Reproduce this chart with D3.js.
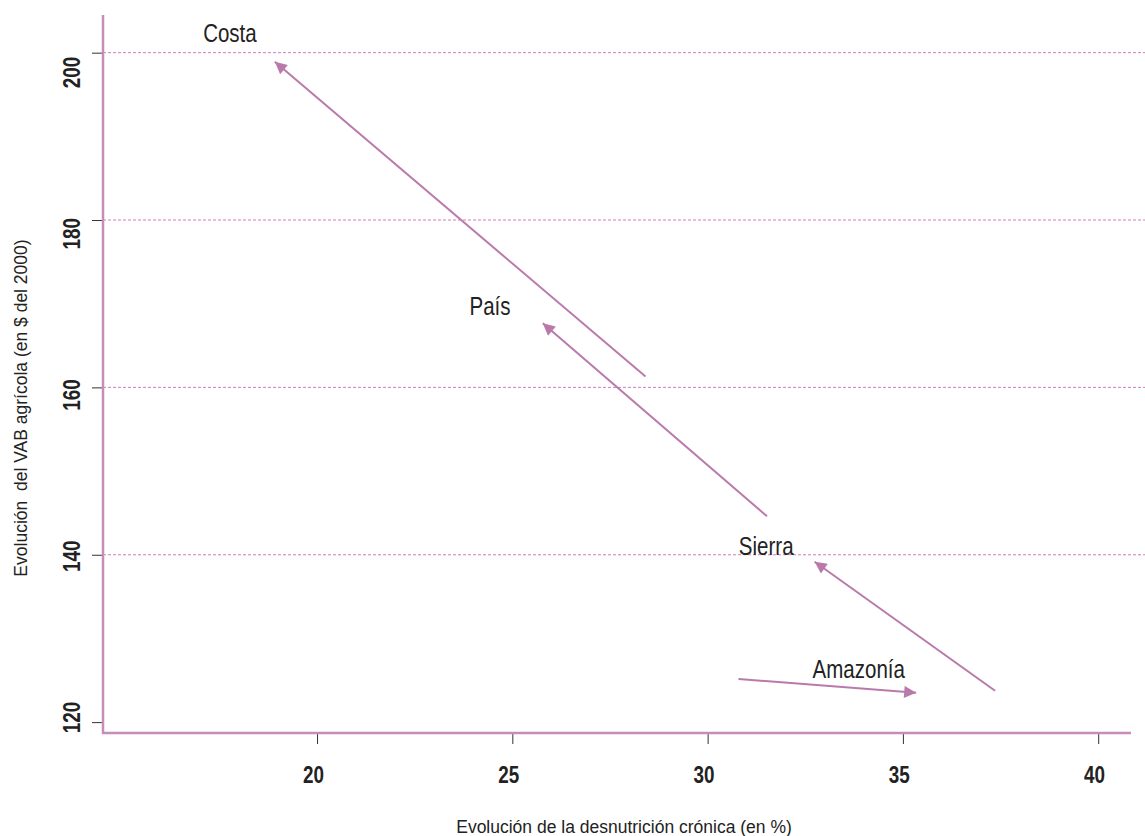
<!DOCTYPE html>
<html>
<head>
<meta charset="utf-8">
<script src="https://cdn.jsdelivr.net/npm/d3@7"></script>
<style>
  html, body { margin: 0; padding: 0; background: #fff; }
  svg { display: block; }
</style>
</head>
<body>
<svg id="chart" width="1145" height="836"></svg>
<script>
// ---- data ----
const regions = ["Costa", "País", "Sierra", "Amazonía"];
const startX = [28.41, 31.52, 37.36, 30.79];   // desnutrición crónica (%) - inicio
const startY = [161.3, 144.6, 123.75, 125.15]; // VAB agrícola - inicio
const endX   = [18.92, 25.78, 32.74, 35.34];   // desnutrición crónica (%) - fin
const endY   = [198.9, 167.66, 139.17, 123.5]; // VAB agrícola - fin
const labelX = [17.77, 24.43, 31.5, 33.87];
const labelY = [201.3, 168.65, 139.97, 125.27];
const xTicks = [20, 25, 30, 35, 40];
const yTicks = [120, 140, 160, 180, 200];
const gridValues = [140, 160, 180, 200];
const xTitle = "Evolución de la desnutrición crónica (en %)";
const yTitle = "Evolución  del VAB agrícola (en $ del 2000)";

// ---- layout ----
const svg = d3.select("#chart");
const mLeft = 103, mRight = 1131, mTop = 15, mBottom = 733;
const x = d3.scaleLinear().domain([14.52, 40.84]).range([mLeft, mRight]);
const y = d3.scaleLinear().domain([118.7, 204.5]).range([mBottom, mTop]);
const yLab = d3.scaleLinear().domain([120, 200]).range([717, 72]);

const axisColor = "#c78cbc";
const arrowColor = "#b97aab";
const gridColor = "#d27dbc";
const font = "'Liberation Sans', Arial, Helvetica, sans-serif";
const squeeze = 0.82;

svg.append("defs").append("marker")
  .attr("id", "arrow")
  .attr("viewBox", "0 0 10 10")
  .attr("refX", 10).attr("refY", 5)
  .attr("markerUnits", "userSpaceOnUse")
  .attr("markerWidth", 16).attr("markerHeight", 12)
  .attr("orient", "auto")
  .append("path")
  .attr("d", "M0,0 L10,5 L0,10 Z")
  .attr("fill", arrowColor);

// gridlines
svg.append("g").selectAll("line").data(gridValues).join("line")
  .attr("x1", mLeft).attr("x2", 1145)
  .attr("y1", d => y(d)).attr("y2", d => y(d))
  .attr("stroke", gridColor).attr("stroke-width", 1)
  .attr("stroke-dasharray", "3,2");

// y axis ticks
const gy = svg.append("g").attr("transform", `translate(${mLeft},0)`)
  .call(d3.axisLeft(y).tickValues(yTicks).tickSize(11).tickSizeOuter(0).tickFormat(""));
gy.select(".domain").remove();
gy.selectAll(".tick line").attr("stroke", "#333").attr("stroke-width", 1);

// y tick labels (rotated, condensed)
const gyl = svg.append("g").attr("transform", `translate(${mLeft},0)`)
  .call(d3.axisLeft(yLab).tickValues(yTicks).tickSize(0).tickSizeOuter(0));
gyl.select(".domain").remove();
gyl.selectAll(".tick text")
  .attr("transform", `rotate(-90) scale(${squeeze},1)`)
  .attr("x", 0).attr("y", -23).attr("dy", 0)
  .attr("text-anchor", "middle")
  .attr("font-family", font).attr("font-weight", "bold")
  .attr("font-size", 23).attr("fill", "#222");

// x axis
const gx = svg.append("g").attr("transform", `translate(0,${mBottom})`)
  .call(d3.axisBottom(x).tickValues(xTicks).tickSize(11).tickSizeOuter(0));
gx.select(".domain").remove();
gx.selectAll(".tick line").attr("stroke", "#333").attr("stroke-width", 1);
gx.selectAll(".tick text")
  .attr("transform", `scale(${squeeze},1)`)
  .attr("x", -5).attr("dy", 0).attr("y", 50)
  .attr("text-anchor", "middle")
  .attr("font-family", font).attr("font-weight", "bold")
  .attr("font-size", 23).attr("fill", "#222");

// axis lines
svg.append("line").attr("x1", mLeft).attr("x2", mLeft)
  .attr("y1", mTop).attr("y2", mBottom + 1)
  .attr("stroke", axisColor).attr("stroke-width", 2.5);
svg.append("line").attr("x1", mLeft - 1).attr("x2", mRight)
  .attr("y1", mBottom).attr("y2", mBottom)
  .attr("stroke", axisColor).attr("stroke-width", 2.5);

// arrows
svg.append("g").selectAll("line").data(regions).join("line")
  .attr("x1", (d, i) => x(startX[i])).attr("y1", (d, i) => y(startY[i]))
  .attr("x2", (d, i) => x(endX[i])).attr("y2", (d, i) => y(endY[i]))
  .attr("stroke", arrowColor).attr("stroke-width", 2)
  .attr("marker-end", "url(#arrow)");

// labels
svg.append("g").selectAll("text").data(regions).join("text")
  .attr("transform", (d, i) => `translate(${x(labelX[i])},${y(labelY[i])}) scale(${squeeze},1)`)
  .attr("text-anchor", "middle")
  .attr("font-family", font).attr("font-size", 25).attr("fill", "#222")
  .text(d => d);

// axis titles
svg.append("text")
  .attr("x", 624).attr("y", 833)
  .attr("text-anchor", "middle")
  .attr("font-family", font)
  .attr("font-size", 17.5).attr("fill", "#222")
  .text(xTitle);
svg.append("text")
  .attr("transform", "translate(27,408) rotate(-90)")
  .attr("text-anchor", "middle")
  .attr("font-family", font)
  .attr("font-size", 17.5).attr("fill", "#222")
  .attr("xml:space", "preserve")
  .style("white-space", "pre")
  .text(yTitle);
</script>
</body>
</html>
